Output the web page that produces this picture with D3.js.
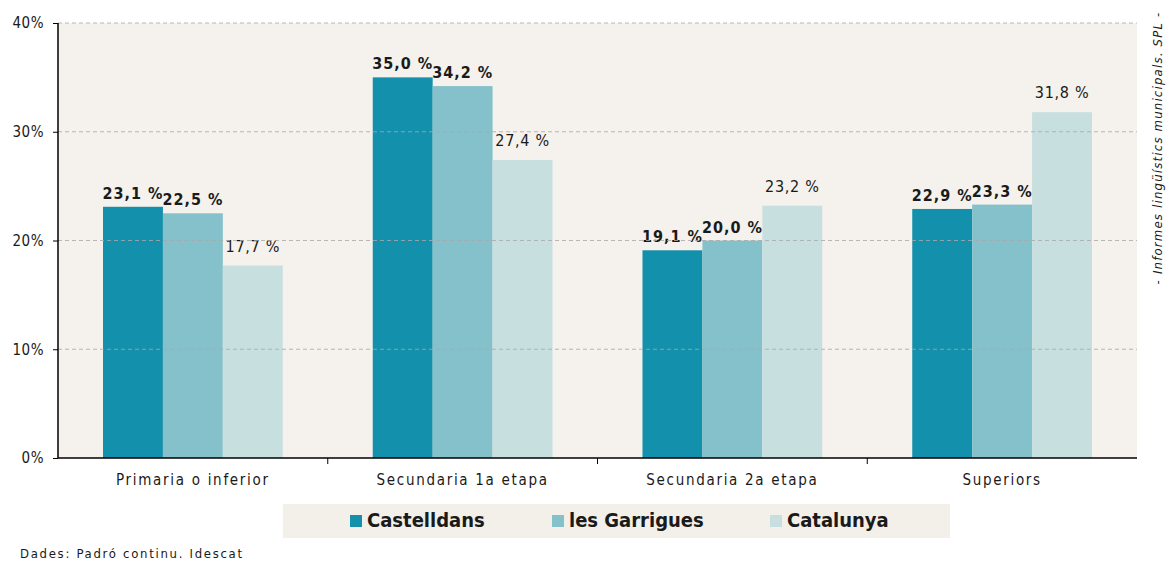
<!DOCTYPE html>
<html>
<head>
<meta charset="utf-8">
<script src="https://cdn.jsdelivr.net/npm/d3@7"></script>
<style>
  body { margin: 0; background: #fff; }
  text { font-family: "DejaVu Sans Condensed", "DejaVu Sans", sans-serif; fill: #1a1a1a; }
</style>
</head>
<body>
<div id="chart"></div>
<script>
// data
var categories = ["Primaria o inferior", "Secundaria 1a etapa", "Secundaria 2a etapa", "Superiors"];
var seriesNames = ["Castelldans", "les Garrigues", "Catalunya"];
var castelldans = [23.1, 35.0, 19.1, 22.9];
var garrigues = [22.5, 34.2, 20.0, 23.3];
var catalunya = [17.7, 27.4, 23.2, 31.8];
var yTicks = [0, 10, 20, 30, 40];
var colors = ["#1390ab", "#85c1cb", "#c8dfdf"];

var seriesValues = [castelldans, garrigues, catalunya];

var W = 1173, H = 564;
var margin = {top: 23, right: 36, bottom: 106, left: 58},
    width = W - margin.left - margin.right,
    height = H - margin.top - margin.bottom;

var root = d3.select("#chart")
  .append("svg")
    .attr("width", W)
    .attr("height", H);

var svg = root.append("g")
    .attr("transform", "translate(" + margin.left + "," + margin.top + ")");

// plot background
svg.append("rect")
  .attr("x", 0).attr("y", 0)
  .attr("width", width).attr("height", height)
  .attr("fill", "#f5f1ec");

var x0 = d3.scaleBand()
  .domain(categories)
  .range([0, width])
  .paddingInner(0)
  .paddingOuter(0);

var x1 = d3.scaleBand()
  .domain(seriesNames)
  .range([45, x0.bandwidth() - 45]);

var y = d3.scaleLinear()
  .domain([0, 40])
  .range([height, 0]);

// bars
var groups = svg.selectAll(".grp")
  .data(categories)
  .enter()
  .append("g")
    .attr("transform", function(d) { return "translate(" + x0(d) + ",0)"; });

groups.selectAll("rect")
  .data(function(d, i) {
    return seriesNames.map(function(s, j) { return {name: s, idx: j, value: seriesValues[j][i]}; });
  })
  .enter()
  .append("rect")
    .attr("x", function(d) { return x1(d.name); })
    .attr("y", function(d) { return y(d.value); })
    .attr("width", x1.bandwidth())
    .attr("height", function(d) { return height - y(d.value); })
    .attr("fill", function(d) { return colors[d.idx]; });

// gridlines (drawn over bars, faint)
svg.append("g")
  .selectAll("line")
  .data(yTicks.filter(function(t) { return t > 0; }))
  .enter()
  .append("line")
    .attr("x1", 0).attr("x2", width)
    .attr("y1", function(d) { return y(d); })
    .attr("y2", function(d) { return y(d); })
    .attr("stroke", "#a9a9a9")
    .attr("stroke-width", 1)
    .attr("stroke-dasharray", "4,3")
    .attr("opacity", 0.8);

// value labels
groups.selectAll(".lbl")
  .data(function(d, i) {
    return seriesNames.map(function(s, j) { return {name: s, idx: j, value: seriesValues[j][i]}; });
  })
  .enter()
  .append("text")
    .attr("x", function(d) { return x1(d.name) + x1.bandwidth() / 2; })
    .attr("y", function(d) { return y(d.value) - (d.idx == 2 ? 14 : 8); })
    .attr("text-anchor", "middle")
    .style("font-size", "16px")
    .style("letter-spacing", function(d) { return d.idx == 2 ? "0.7px" : "1px"; })
    .style("font-weight", function(d) { return d.idx == 2 ? "normal" : "bold"; })
    .text(function(d) { return d3.format(".1f")(d.value).replace(".", ",") + " %"; });

// y axis
var yAxis = svg.append("g")
  .call(d3.axisLeft(y).tickValues(yTicks).tickSize(5).tickFormat(function(d) { return d + "%"; }));
yAxis.select(".domain").attr("stroke", "#000").attr("stroke-width", 1.5).attr("d", "M0,0V" + height);
yAxis.selectAll(".tick line").attr("stroke", "#000");
yAxis.selectAll(".tick text")
  .attr("x", -14)
  .style("font-size", "15px")
  .style("letter-spacing", "0.5px")
  .style("font-family", "'DejaVu Sans Condensed', sans-serif")
  .attr("fill", "#1a1a1a");

// x axis
var xAxis = svg.append("g")
  .attr("transform", "translate(0," + height + ")");
xAxis.append("line")
  .attr("x1", 0).attr("x2", width)
  .attr("stroke", "#000").attr("stroke-width", 1.5);
xAxis.selectAll(".xt")
  .data(categories.slice(1))
  .enter()
  .append("line")
    .attr("x1", function(d) { return x0(d); })
    .attr("x2", function(d) { return x0(d); })
    .attr("y1", 0).attr("y2", 6)
    .attr("stroke", "#000");
xAxis.selectAll(".xl")
  .data(categories)
  .enter()
  .append("text")
    .attr("x", function(d) { return x0(d) + x0.bandwidth() / 2; })
    .attr("y", 27)
    .attr("text-anchor", "middle")
    .style("font-size", "15px")
    .style("letter-spacing", "1.7px")
    .text(function(d) { return d; });

// legend
var legend = root.append("g")
  .attr("transform", "translate(283,504)");
legend.append("rect")
  .attr("width", 667).attr("height", 34)
  .attr("fill", "#f3efe9");
var legX = [67, 269, 487];
seriesNames.forEach(function(s, i) {
  legend.append("rect")
    .attr("x", legX[i]).attr("y", 11)
    .attr("width", 12).attr("height", 12)
    .attr("fill", colors[i]);
  legend.append("text")
    .attr("x", legX[i] + 17).attr("y", 23)
    .style("font-size", "20px")
    .style("font-weight", "bold")
    .text(s);
});

// source
root.append("text")
  .attr("x", 20).attr("y", 558)
  .style("font-size", "13px")
  .style("letter-spacing", "1.7px")
  .text("Dades: Padró continu. Idescat");

// side credit
root.append("text")
  .attr("transform", "translate(1162,148) rotate(-90)")
  .attr("text-anchor", "middle")
  .style("font-size", "13px")
  .style("letter-spacing", "1.2px")
  .style("font-style", "italic")
  .text("- Informes lingüístics municipals. SPL -");
</script>
</body>
</html>
